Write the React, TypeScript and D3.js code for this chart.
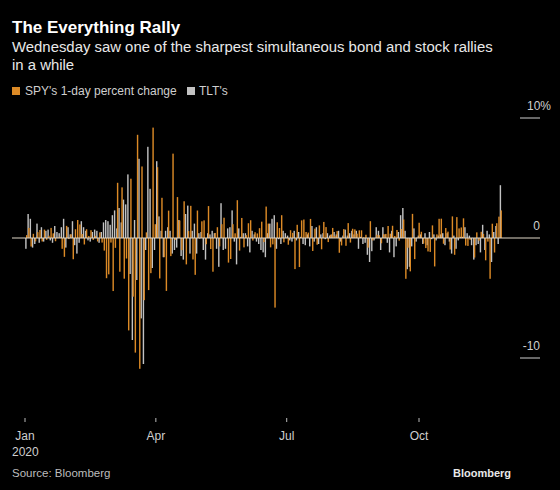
import React from "react";
import * as d3 from "d3";

// Daily % change, Dec 31 2019 .. Nov 4 2020 (trading days)
const spy: number[] = [
  0.24,
  // Jan
  0.84, -0.71, 0.35, -0.28, 0.49, 0.67, -0.29, 0.70, -0.15, 0.19, 0.84, 0.39, -0.27, 0.03, 0.11, -0.90, -1.57, 1.01, -0.09, 0.31, -1.77,
  // Feb
  0.73, 1.50, 1.13, 0.33, -0.54, 0.73, 0.17, 0.65, -0.16, 0.18, -0.29, 0.47, -0.38, -1.05, -3.35, -3.03, -0.38, -4.42, -0.82,
  // Mar
  4.60, -2.81, 4.22, -3.39, -1.71, -7.70, 4.94, -4.89, -9.55, 8.60, -10.9, 5.96, -5.18, 0.47, -4.34, -2.93, 9.20, 1.15, 5.90, -3.37, 3.35, -1.60,
  // Apr
  -4.41, 2.28, -1.51, 7.03, -0.16, 3.41, 1.45, -1.01, 3.06, -2.20, 0.58, 2.68, -1.79, -3.07, 2.29, -0.05, 1.39, 1.47, -0.52, 2.66, -0.92,
  // May
  -2.81, 0.42, 0.90, -0.70, 1.15, 1.69, 0.01, -2.05, -1.75, 1.15, 0.39, 3.15, -1.05, 1.67, -0.78, 0.24, 1.23, 1.48, -0.21, 0.48,
  // Jun
  0.38, 0.82, 1.36, -0.34, 2.62, 1.20, -0.78, -0.53, -5.80, 1.31, 0.83, 1.90, -0.36, 0.06, -0.56, 0.65, 0.43, -2.59, 1.10, -2.42, 1.47, 1.54,
  // Jul
  0.50, 0.45, 1.59, -1.08, 0.78, -0.56, 1.05, -0.94, 1.34, 0.91, -0.34, 0.28, 0.84, 0.17, 0.57, -1.23, -0.62, 0.74, -0.65, 1.24, -0.38, 0.77,
  // Aug
  0.72, 0.36, 0.64, 0.64, 0.06, 0.27, -0.80, 1.40, -0.20, -0.02, 0.27, 0.23, -0.44, 0.32, 0.34, 1.00, 0.36, 1.02, 0.17, 0.67, -0.22,
  // Sep
  0.75, 1.54, -3.40, -0.81, -2.78, 2.01, -1.76, 0.05, 1.27, 0.52, -0.46, -0.84, -1.12, -1.16, 1.05, -2.37, 0.30, 1.60, 1.61, -0.48, 0.83,
  // Oct
  0.53, -0.96, 1.80, -1.40, 1.74, 0.80, 0.88, 1.64, -0.63, -0.66, -0.15, 0.01, -1.63, 0.47, -0.22, 0.52, 0.34, -1.86, -0.30, -3.40, 1.19, -1.21,
  // Nov
  1.23, 1.78, 2.30,
];

const tlt: number[] = [
  -0.9,
  // Jan
  2.0, 1.6, -0.8, -0.5, 1.2, -0.4, 0.9, -0.3, 0.6, 0.7, -0.2, -0.4, 1.0, 0.5, 0.4, 0.9, 1.6, -0.8, 0.9, 0.3, 1.4,
  // Feb
  -0.6, -1.3, -0.4, 1.4, 0.9, 0.6, -0.2, -0.3, 0.5, 0.7, 0.6, -0.4, 0.5, 1.3, 1.5, 1.4, 1.1, 1.9, 2.3,
  // Mar
  0.8, 2.5, 1.3, 3.2, 2.8, 5.3, -3.0, -8.5, 1.5, -3.5, 6.6, -6.7, -10.5, -1.0, 7.6, 4.1, -2.5, -1.0, 6.4, 1.8, 0.6, -1.6,
  // Apr
  0.6, 0.9, 0.6, -1.3, -1.0, -0.8, 1.5, -1.5, -1.8, 2.0, 2.7, -1.3, 0.6, 1.2, -1.3, 0.4, 0.5, -1.0, -1.8, 0.4, 0.3,
  // May
  0.6, 0.4, -0.9, -2.4, 2.9, -1.0, -0.9, 0.8, 0.9, 2.3, -0.3, -2.2, 0.8, 0.1, 0.4, 0.4, -0.7, -1.2, 0.6, 0.3,
  // Jun
  -0.3, -0.5, -1.0, -1.2, -1.6, 0.4, 1.2, 1.6, 1.9, -0.9, -0.1, -0.5, 0.6, 0.4, 0.2, -0.2, -0.3, 0.6, -0.2, 0.5, 0.1, -0.5,
  // Jul
  -0.6, 0.3, -0.7, 1.0, -0.3, 0.9, -0.5, 0.3, 0.4, -0.1, 0.4, 0.2, 0.3, 0.5, 0.3, 0.6, -0.3, 0.2, 0.7, 0.2, 0.4, 0.6,
  // Aug
  0.3, 0.6, -0.9, 0.1, -0.5, -0.4, -1.4, -2.0, -1.1, -0.2, 0.9, 0.6, -1.0, 0.9, 0.3, -0.4, -1.2, 0.6, -1.6, -0.7, 0.5,
  // Sep
  1.9, 2.5, 0.6, -2.6, -2.4, -0.7, 0.8, -0.3, 0.2, 0.3, -0.5, 0.4, -0.6, 0.5, -0.1, 0.3, -0.2, 0.2, 0.3, 0.4, -0.6,
  // Oct
  0.4, -0.3, -1.3, 0.2, -0.9, -0.2, 0.1, 0.1, 0.9, 0.4, 0.2, -0.6, -1.8, -0.6, -0.5, -1.2, 1.1, -1.0, 0.6, 0.3, -2.0, 0.5,
  // Nov
  1.0, -0.5, 4.4,
];

const monthTicks: string[] = ["2020-01-01", "2020-04-01", "2020-07-01", "2020-10-01"];
const monthLabels: string[] = ["Jan", "Apr", "Jul", "Oct"];
const yTicks: number[] = [10, 0, -10];
const yTickLabels: string[] = ["10%", "0", "-10"];

const W = 560;
const H = 490;
const ORANGE = "#dc8a26";
const GRAY = "#c2c2c2";
const FONT = "'Liberation Sans', Arial, sans-serif";

export default function App() {
  const n = spy.length;
  const x = d3.scaleBand<number>().domain(d3.range(n)).range([25.2, 501.9]).paddingInner(0).paddingOuter(0);
  const step = x.step();
  const bw = step * 0.64;
  const y = d3.scaleLinear().domain([-10, 10]).range([358, 118]);
  const parse = d3.timeParse("%Y-%m-%d");
  const t = d3.scaleTime().domain([parse("2020-01-01")!, parse("2020-10-01")!]).range([25, 419]);

  return (
    <svg width={W} height={H} style={{ position: "absolute", left: 0, top: 0, background: "#000" }}>
      <rect x={0} y={0} width={W} height={H} fill="#000" />
      <text x={12} y={33} fill="#fff" fontFamily={FONT} fontWeight="bold" fontSize={17}>The Everything Rally</text>
      <text x={12} y={52} fill="#e8e8e8" fontFamily={FONT} fontSize={14.9}>Wednesday saw one of the sharpest simultaneous bond and stock rallies</text>
      <text x={12} y={70} fill="#e8e8e8" fontFamily={FONT} fontSize={14.9}>in a while</text>

      <rect x={12} y={87} width={8} height={8} fill={ORANGE} />
      <text x={25} y={95} fill="#cfcfcf" fontFamily={FONT} fontSize={12}>SPY's 1-day percent change</text>
      <rect x={187} y={87} width={8} height={8} fill={GRAY} />
      <text x={199} y={95} fill="#cfcfcf" fontFamily={FONT} fontSize={12}>TLT's</text>

      {tlt.map((v, i) => (
        <rect key={"t" + i} x={x(i)!} y={y(Math.max(0, v))} width={bw} height={Math.abs(y(v) - y(0))} fill={GRAY} />
      ))}
      {spy.map((v, i) => (
        <rect key={"s" + i} x={x(i)! + step - bw} y={y(Math.max(0, v))} width={bw} height={Math.abs(y(v) - y(0))} fill={ORANGE} />
      ))}

      <line x1={12} x2={540} y1={y(0)} y2={y(0)} stroke="#e0d8c8" strokeWidth={1} />
      {yTicks.map((v, i) => (
        <g key={"y" + i}>
          {v !== 0 && <line x1={520} x2={540} y1={y(v)} y2={y(v)} stroke="#cfcfcf" strokeWidth={1} />}
          <text x={v === 10 ? 527 : 540} y={y(v) - 8} textAnchor={v === 10 ? "start" : "end"} fill="#cfcfcf" fontFamily={FONT} fontSize={12}>{yTickLabels[i]}</text>
        </g>
      ))}

      {monthTicks.map((d, i) => {
        const px = t(parse(d)!);
        return (
          <g key={"m" + i}>
            <line x1={px} x2={px} y1={418} y2={422} stroke="#bbb" strokeWidth={1} />
            <text x={px} y={440} textAnchor="middle" fill="#cfcfcf" fontFamily={FONT} fontSize={12}>{monthLabels[i]}</text>
          </g>
        );
      })}
      <text x={12} y={456} fill="#cfcfcf" fontFamily={FONT} fontSize={12}>2020</text>
      <text x={12} y={477} fill="#bdbdbd" fontFamily={FONT} fontSize={11.5}>Source: Bloomberg</text>
      <text x={511} y={477} textAnchor="end" fill="#e8e8e8" fontFamily={FONT} fontWeight="bold" fontSize={11}>Bloomberg</text>
    </svg>
  );
}
